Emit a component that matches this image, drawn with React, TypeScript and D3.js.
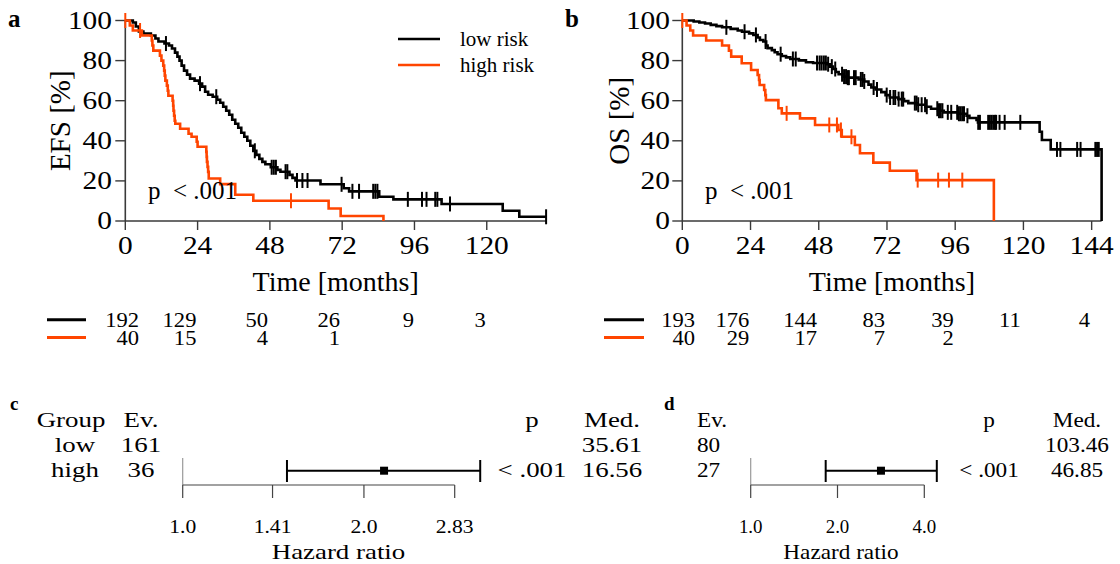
import React from "react";
import * as d3 from "d3";

type Pt = [number, number];

const BLACK = "#000000";
const RED = "#FF4500";
const AXIS = "#3a3a3a";
const FONT = "Liberation Serif, Times New Roman, Tinos, DejaVu Serif, serif";

// ---------- Panel a: EFS ----------
const efsLowSteps: Pt[] = [
  [0, 100], [2.5, 99], [3.5, 97], [4.5, 94.5], [6, 93.5], [8.5, 92.5], [10, 91], [11, 89.5],
  [13, 88.5], [14.5, 87.5], [15.5, 86], [16.5, 84], [17.3, 82], [18, 80], [18.7, 77.5],
  [19.5, 75], [20.5, 73], [21.5, 71], [23, 70], [24.5, 68.5], [25.5, 67], [26.5, 64.5],
  [27.5, 63], [29, 62], [30.5, 60.5], [31.5, 59], [32.5, 57], [33.5, 55], [34.5, 53],
  [35.5, 50.5], [36.5, 48.5], [37.5, 46.5], [38.5, 44], [39.5, 42], [40.5, 40], [41.5, 37.5],
  [42.5, 35], [43.5, 33], [44.5, 31], [45.5, 29.5], [46.5, 28.3], [48.3, 26.8], [50.5, 25.5],
  [51.5, 24.6], [54.5, 23], [55.5, 21.5], [56.5, 20.2], [64.8, 18.3], [72.5, 16.3], [74.3, 14.8],
  [84.3, 12.1], [89, 10.8], [105, 8.5], [125.3, 5.1], [130.8, 2.1],
];
const efsLowCensor = [
  13.5, 24.8, 30.2, 43, 48.6, 49.3, 50, 53.2, 53.8, 57, 58.8, 60.5, 71.8, 75.4, 77.6,
  82.3, 83, 83.7, 93.8, 98.5, 100, 102.9, 103.6, 107.8, 139.7,
];
const efsLowEnd = 139.7;

const efsHighSteps: Pt[] = [
  [0, 100], [1.5, 97.5], [2.5, 95], [5.5, 92.5], [8.8, 90], [9, 87.5], [9.3, 85], [11.5, 82.5],
  [12, 80], [12.6, 77.5], [12.9, 75], [13.1, 72.5], [13.3, 70], [13.8, 67.5], [14.1, 65],
  [14.3, 62.5], [15.7, 60], [15.9, 57.5], [16, 55], [16.2, 52.5], [16.4, 50], [16.6, 48.5],
  [18.2, 46], [21, 43.5], [22, 42], [23.7, 39.5], [24, 37], [26.9, 34.5], [27, 32], [27.1, 29.5],
  [27.3, 27], [27.5, 24.5], [27.7, 21.2], [31.5, 18.4], [36.5, 13.1], [42.5, 10.1],
  [67.5, 6.2], [71.5, 2.5], [85.7, 0],
];
const efsHighCensor = [0, 4.9, 55];
const efsHighEnd = 85.7;

// ---------- Panel b: OS ----------
const osLowSteps: Pt[] = [
  [0, 100], [4, 99.5], [6, 99], [8, 98.5], [10, 97.8], [12, 97.2], [14, 96.6], [17, 95.8],
  [19.5, 95], [21, 94.4], [23.5, 93.6], [25, 92.8], [26.5, 91.5], [27.3, 90.3], [28.5, 89.5],
  [29.5, 87.5], [30, 86.2], [31.5, 85.2], [32.5, 84.2], [33.5, 83.2], [35, 82.3], [36.5, 81.6],
  [38, 80.8], [41, 80.1], [43.5, 79.2], [46, 78.8], [51, 78.2], [52, 77], [53, 75.8], [54, 74.3],
  [55, 73.2], [56.5, 72], [58, 71.5], [62, 70.6], [64, 69.6], [65.5, 68], [66.5, 66.6],
  [68, 65.6], [70, 64.3], [71.5, 62.8], [73, 61.6], [76, 60.8], [78, 59.8], [79.5, 58.8],
  [82.5, 58], [85.5, 57], [87.5, 56], [90, 55], [92, 54.2], [97, 53.5], [100, 52.5],
  [101, 51.4], [103.5, 50.4], [104, 49.2], [125.7, 44.5], [126.5, 40.4], [129.6, 35.7],
  [147.5, 0],
];
const osLowCensor = [
  15.5, 21.9, 25.9, 29.3, 34.6, 38.9, 39.9, 47.4, 48.3, 49, 49.8, 50.5, 51.3, 52.6, 53.8,
  56.2, 56.9, 57.6, 58.2, 58.6, 60.4, 61, 62.8, 63.4, 64, 67.3, 68.5, 71.9, 73.1, 74.3, 74.9,
  76.1, 77.2, 77.7, 81.8, 82.4, 83, 84.2, 85.4, 86, 89.7, 90.3, 90.9, 91.5, 93.4, 94.6, 96.7,
  97.3, 97.9, 98.5, 99.1, 100.3, 104.1, 104.7, 107.6, 108.2, 108.8, 109.4, 110, 110.4, 111.6,
  113.4, 118.9, 131.8, 133, 138.9, 140.1, 145.3, 145.9, 146.5,
];
const osLowEnd = 147.5;

const osHighSteps: Pt[] = [
  [0, 100], [1.5, 97.5], [2.8, 95], [3.8, 92.5], [8.4, 90], [14, 87.5], [16.4, 85], [17.2, 82],
  [20.9, 78.7], [24.2, 75.3], [26.5, 72.8], [27, 70.3], [27.2, 67.8], [28.8, 65.3], [29.2, 62.8],
  [29.4, 60.3], [33.8, 56.2], [35, 53.7], [41.4, 51.2], [46.7, 47.9], [54.9, 45.4], [56.1, 42],
  [60.7, 37.9], [62.5, 33.8], [67.2, 29.1], [73, 25.1], [82.4, 20.4], [109.6, 0],
];
const osHighCensor = [0, 36.7, 51.7, 54.4, 55.8, 59.5, 82.8, 90, 93.8, 98.5];
const osHighEnd = 109.6;

const yTicks = [0, 20, 40, 60, 80, 100];
const efsXTicks = [0, 24, 48, 72, 96, 120];
const osXTicks = [0, 24, 48, 72, 96, 120, 144];

const efsRiskLow = [192, 129, 50, 26, 9, 3];
const efsRiskHigh = [40, 15, 4, 1];
const osRiskLow = [193, 176, 144, 83, 39, 11, 4];
const osRiskHigh = [40, 29, 17, 7, 2];

const legendLabels = ["low risk", "high risk"];
const pText = "p\u2002< .001";

// ---------- Forest c / d ----------
const efsGroups = ["low", "high"];
const efsEvents = [161, 36];
const efsMedians = ["35.61", "16.56"];
const efsHR = 2.16;
const efsCI: [number, number] = [1.49, 3.12];
const efsHRTicks = [1.0, 1.41, 2.0, 2.83];
const efsHRTickLabels = ["1.0", "1.41", "2.0", "2.83"];

const osEvents = [80, 27];
const osMedians = ["103.46", "46.85"];
const osHR = 2.83;
const osCI: [number, number] = [1.82, 4.42];
const osHRTicks = [1.0, 2.0, 4.0];
const osHRTickLabels = ["1.0", "2.0", "4.0"];
const forestP = "< .001";

function survAt(steps: Pt[], t: number) {
  let s = steps[0][1];
  for (const [tt, ss] of steps) {
    if (tt <= t + 1e-9) s = ss;
    else break;
  }
  return s;
}

function T(p: { x: number; y: number; size: number; sx?: number; anchor?: "start" | "middle" | "end"; bold?: boolean; children: React.ReactNode }) {
  return (
    <text
      transform={`translate(${p.x},${p.y}) scale(${p.sx ?? 1},1)`}
      fontSize={p.size}
      textAnchor={p.anchor ?? "start"}
      fontWeight={p.bold ? "bold" : "normal"}
    >
      {p.children}
    </text>
  );
}

type Series = { steps: Pt[]; censor: number[]; end: number; color: string };

function KMPanel(props: {
  letter: string; letterX: number;
  xRange: [number, number]; tMax: number; xTicks: number[];
  series: Series[]; ylabel: string; ylabelX: number; tickRight: number;
  pX: number; legend?: boolean;
  riskLegendX: [number, number]; riskCols: number[]; risk: number[][];
}) {
  const x = d3.scaleLinear().domain([0, props.tMax]).range(props.xRange);
  const y = d3.scaleLinear().domain([0, 100]).range([221, 20.5]);
  const line = d3.line<Pt>().x(d => x(d[0])).y(d => y(d[1])).curve(d3.curveStepAfter);
  const [x0, x1] = props.xRange;
  const rowY = [319.8, 337.5];
  const tickSize = 24.5;
  const tickSx = 1.2;
  return (
    <g>
      <T x={props.letterX} y={27} size={25} bold>{props.letter}</T>
      <line x1={x0} x2={x0} y1={y(100)} y2={y(0)} stroke={AXIS} strokeWidth={1.6} />
      <line x1={x0} x2={x1} y1={y(0)} y2={y(0)} stroke={AXIS} strokeWidth={1.6} />
      {yTicks.map(v => (
        <g key={"y" + v}>
          <line x1={x0 - 10} x2={x0} y1={y(v)} y2={y(v)} stroke={AXIS} strokeWidth={1.4} />
          <T x={props.tickRight} y={y(v) + 8.3} size={tickSize} sx={tickSx} anchor="end">{v}</T>
        </g>
      ))}
      {props.xTicks.map(v => (
        <g key={"x" + v}>
          <line x1={x(v)} x2={x(v)} y1={y(0)} y2={y(0) + 9} stroke={AXIS} strokeWidth={1.4} />
          <T x={x(v)} y={254} size={tickSize} sx={tickSx} anchor="middle">{v}</T>
        </g>
      ))}
      <T x={(x0 + x1) / 2} y={291} size={28} anchor="middle">Time [months]</T>
      <text transform={`translate(${props.ylabelX},${(y(0) + y(100)) / 2}) rotate(-90)`} fontSize={29} textAnchor="middle">{props.ylabel}</text>
      {props.series.map((s, i) => {
        const pts: Pt[] = [...s.steps];
        const last = pts[pts.length - 1];
        if (s.end > last[0]) pts.push([s.end, last[1]]);
        return (
          <g key={"s" + i}>
            <path d={line(pts) || ""} fill="none" stroke={s.color} strokeWidth={2.6} />
            {s.censor.map((c, j) => {
              const sv = survAt(s.steps, c);
              return <line key={j} x1={x(c)} x2={x(c)} y1={y(sv) - 7.5} y2={y(sv) + 7.5} stroke={s.color} strokeWidth={2} />;
            })}
          </g>
        );
      })}
      <T x={props.pX} y={199} size={25}>{pText}</T>
      {props.legend && legendLabels.map((l, i) => (
        <g key={l}>
          <line x1={398} x2={440} y1={39 + i * 26} y2={39 + i * 26} stroke={props.series[i].color} strokeWidth={2.6} />
          <T x={460} y={46 + i * 26} size={21}>{l}</T>
        </g>
      ))}
      {props.risk.map((row, i) => (
        <g key={"r" + i}>
          <line x1={props.riskLegendX[0]} x2={props.riskLegendX[1]} y1={rowY[i]} y2={rowY[i]} stroke={props.series[i].color} strokeWidth={3} />
          {row.map((n, j) => (
            <T key={j} x={props.riskCols[j]} y={rowY[i] + 7.2} size={20.5} sx={1.1} anchor="end">{n}</T>
          ))}
        </g>
      ))}
    </g>
  );
}

function Forest(props: {
  letter: string; letterX: number; sx: number;
  groups?: string[]; groupX?: number; evX: number; evAnchor: "middle" | "start";
  events: number[]; medians: string[]; pX: number; medX: number;
  hr: number; ci: [number, number]; ticks: number[]; tickLabels: string[];
  range: [number, number]; hrLabelX: number; tickSx: number;
}) {
  const x = d3.scaleLog().domain([props.ticks[0], props.ticks[props.ticks.length - 1]]).range(props.range);
  const rows = [427, 451.5, 476.5];
  const fs = 21.5;
  const sx = props.sx;
  const ciY = 470.7;
  return (
    <g>
      <T x={props.letterX} y={410} size={19} bold>{props.letter}</T>
      {props.groups && (
        <g>
          <T x={props.groupX || 0} y={rows[0]} size={fs} sx={sx} anchor="middle">Group</T>
          {props.groups.map((g, i) => (
            <T key={g} x={(props.groupX || 0) + 4} y={rows[i + 1]} size={fs} sx={sx} anchor="middle">{g}</T>
          ))}
        </g>
      )}
      <T x={props.evX} y={rows[0]} size={fs} sx={sx} anchor={props.evAnchor}>Ev.</T>
      {props.events.map((e, i) => (
        <T key={i} x={props.evX} y={rows[i + 1]} size={fs} sx={sx} anchor={props.evAnchor}>{e}</T>
      ))}
      <T x={props.pX} y={rows[0]} size={fs} sx={sx} anchor="middle">p</T>
      <T x={props.pX} y={rows[2]} size={fs} sx={sx} anchor="middle">{forestP}</T>
      <T x={props.medX} y={rows[0]} size={fs} sx={sx} anchor="middle">Med.</T>
      {props.medians.map((m, i) => (
        <T key={i} x={props.medX} y={rows[i + 1]} size={fs} sx={sx} anchor="middle">{m}</T>
      ))}
      <line x1={x(1)} x2={x(1)} y1={458} y2={485} stroke="#9a9a9a" strokeWidth={1.2} />
      <line x1={props.range[0]} x2={props.range[1]} y1={485} y2={485} stroke="#444" strokeWidth={1.2} />
      {props.ticks.map((t, i) => (
        <g key={i}>
          <line x1={x(t)} x2={x(t)} y1={485} y2={498} stroke="#444" strokeWidth={1.2} />
          <T x={x(t)} y={533} size={18} sx={props.tickSx} anchor="middle">{props.tickLabels[i]}</T>
        </g>
      ))}
      <T x={props.hrLabelX} y={559} size={fs} sx={sx} anchor="middle">Hazard ratio</T>
      <line x1={x(props.ci[0])} x2={x(props.ci[1])} y1={ciY} y2={ciY} stroke="#000" strokeWidth={2} />
      <line x1={x(props.ci[0])} x2={x(props.ci[0])} y1={460} y2={482} stroke="#000" strokeWidth={2} />
      <line x1={x(props.ci[1])} x2={x(props.ci[1])} y1={460} y2={482} stroke="#000" strokeWidth={2} />
      <rect x={x(props.hr) - 4} y={ciY - 4} width={8} height={8} fill="#000" />
    </g>
  );
}

export default function App() {
  return (
    <svg width={1120} height={564} fontFamily={FONT} style={{ position: "absolute", left: 0, top: 0, background: "#fff", fontFamily: FONT }}>
      <rect width={1120} height={564} fill="#fff" />
      <KMPanel
        letter="a" letterX={8}
        xRange={[125.3, 546.1]} tMax={139.7} xTicks={efsXTicks}
        series={[
          { steps: efsLowSteps, censor: efsLowCensor, end: efsLowEnd, color: BLACK },
          { steps: efsHighSteps, censor: efsHighCensor, end: efsHighEnd, color: RED },
        ]}
        ylabel="EFS [%]" ylabelX={70} tickRight={112}
        pX={148} legend
        riskLegendX={[47, 86]} riskCols={[139, 196.4, 268, 340, 414, 485.7]}
        risk={[efsRiskLow, efsRiskHigh]}
      />
      <KMPanel
        letter="b" letterX={565}
        xRange={[682.3, 1101.6]} tMax={147.5} xTicks={osXTicks}
        series={[
          { steps: osLowSteps, censor: osLowCensor, end: osLowEnd, color: BLACK },
          { steps: osHighSteps, censor: osHighCensor, end: osHighEnd, color: RED },
        ]}
        ylabel="OS [%]" ylabelX={629} tickRight={670}
        pX={705}
        riskLegendX={[604, 644]} riskCols={[695, 749.3, 817, 885, 953.7, 1020.7, 1090]}
        risk={[osRiskLow, osRiskHigh]}
      />
      <Forest
        letter="c" letterX={10} sx={1.25}
        groups={efsGroups} groupX={71} evX={141} evAnchor="middle"
        events={efsEvents} medians={efsMedians} pX={532} medX={612}
        hr={efsHR} ci={efsCI} ticks={efsHRTicks} tickLabels={efsHRTickLabels}
        range={[182.7, 454.7]} hrLabelX={338.5} tickSx={1.2}
      />
      <Forest
        letter="d" letterX={664} sx={1.08}
        evX={697} evAnchor="start"
        events={osEvents} medians={osMedians} pX={989} medX={1077}
        hr={osHR} ci={osCI} ticks={osHRTicks} tickLabels={osHRTickLabels}
        range={[750.7, 924.3]} hrLabelX={841} tickSx={1.05}
      />
    </svg>
  );
}
